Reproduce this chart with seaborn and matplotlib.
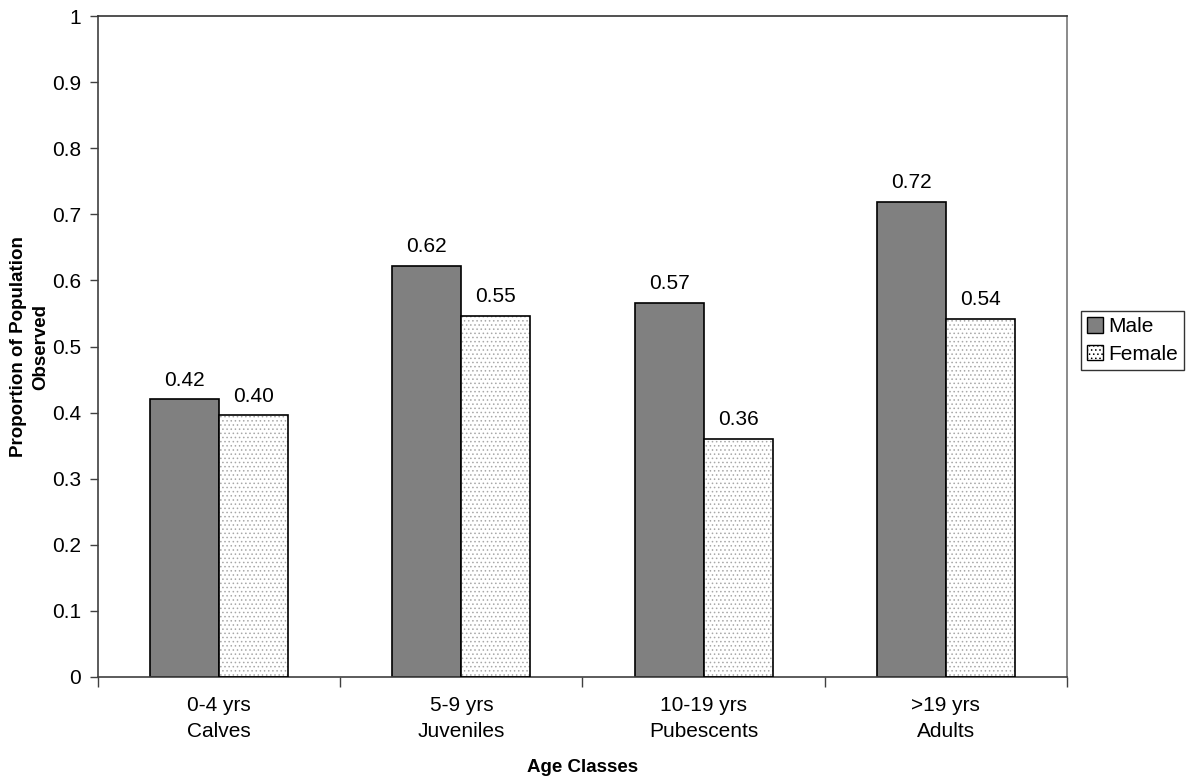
import matplotlib
matplotlib.use("Agg")
import matplotlib.pyplot as plt
import seaborn as sns
import pandas as pd
from matplotlib.patches import Rectangle
from matplotlib.ticker import FixedLocator

categories = ["0-4 yrs\nCalves", "5-9 yrs\nJuveniles", "10-19 yrs\nPubescents", ">19 yrs\nAdults"]
male = [0.42, 0.622, 0.566, 0.719]
female = [0.396, 0.546, 0.36, 0.542]
series = ["Male", "Female"]

df = pd.DataFrame({
    "Age": categories * 2,
    "Sex": ["Male"] * 4 + ["Female"] * 4,
    "Value": male + female,
})

sns.set_theme(style="white")
plt.rcParams["font.family"] = ["Liberation Sans", "DejaVu Sans"]
plt.rcParams["hatch.linewidth"] = 0.6
plt.rcParams["hatch.color"] = "#9a9a9a"
plt.rcParams["text.color"] = "black"
plt.rcParams["axes.labelcolor"] = "black"
plt.rcParams["xtick.color"] = "black"
plt.rcParams["ytick.color"] = "black"

FS = 15
LFS = 13.5

fig = plt.figure(figsize=(11.89, 7.82), dpi=100)
ax = fig.add_axes([0.0824, 0.1343, 0.8150, 0.8452])

sns.barplot(data=df, x="Age", y="Value", hue="Sex", order=categories,
            hue_order=series, palette={"Male": "#808080", "Female": "white"},
            width=0.57, gap=0, edgecolor="black", linewidth=1.2, ax=ax,
            legend=False, errorbar=None)

# Female pattern
for cont, name in zip(ax.containers, series):
    if name == "Female":
        for p in cont.patches:
            x, y = p.get_xy()
            w, h = p.get_width(), p.get_height()
            p.set_linewidth(0)
            p.set_zorder(2)
            hp = Rectangle((x, y), w, h, facecolor="none", edgecolor="#a8a8a8",
                           hatch="....", linewidth=0, zorder=2.5)
            ax.add_patch(hp)
            op = Rectangle((x, y), w, h, facecolor="none", edgecolor="black",
                           linewidth=1.2, zorder=3)
            ax.add_patch(op)
    ax.bar_label(cont, fmt="%.2f", padding=7, fontsize=FS, color="black")

ax.set_ylim(0, 1)
ax.set_xlim(-0.5, 3.5)
ax.set_yticks([i / 10 for i in range(11)])
ax.set_yticklabels(["0"] + [f"0.{i}" for i in range(1, 10)] + ["1"], fontsize=FS)
ax.set_xticks(range(4))
ax.set_xticklabels(categories, fontsize=FS, linespacing=1.45)
ax.xaxis.set_minor_locator(FixedLocator([-0.5, 0.5, 1.5, 2.5, 3.5]))
ax.tick_params(axis="x", which="major", length=0, pad=14)
ax.tick_params(axis="x", which="minor", length=7, width=1, direction="out", color="#404040", bottom=True)
ax.tick_params(axis="y", which="major", length=6, width=1, direction="out", color="#404040", left=True, pad=6)

for s in ["left", "bottom"]:
    ax.spines[s].set_color("#404040")
    ax.spines[s].set_linewidth(1.2)
for s in ["top", "right"]:
    ax.spines[s].set_color("#333333")
    ax.spines[s].set_linewidth(1.2)
ax.spines["right"].set_color("#777777")

ax.set_xlabel("Age Classes", fontsize=LFS, fontweight="bold", labelpad=13)
ax.set_ylabel("Proportion of Population\nObserved", fontsize=LFS, fontweight="bold", labelpad=2,
              linespacing=1.45)

handles = [Rectangle((0, 0), 1, 1, facecolor="#808080", edgecolor="black", linewidth=1),
           Rectangle((0, 0), 1, 1, facecolor="white", edgecolor="black", linewidth=1, hatch="....")]
leg = fig.legend(handles, series, loc="upper left", bbox_to_anchor=(1081 / 1189, 1 - 311 / 782),
                 fontsize=FS, frameon=True, fancybox=False, edgecolor="black",
                 handlelength=0.75, handleheight=0.75, handletextpad=0.25, borderpad=0.3,
                 labelspacing=0.4, borderaxespad=0)
leg.get_frame().set_linewidth(1)

fig.savefig("out.png", dpi=100)
